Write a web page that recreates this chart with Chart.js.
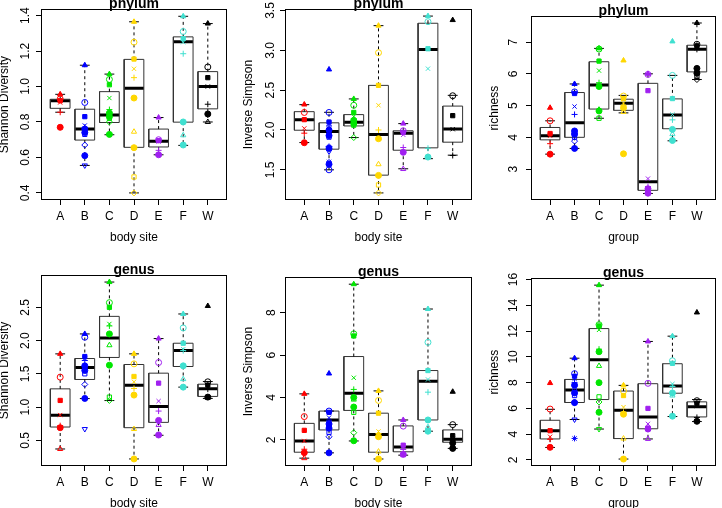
<!DOCTYPE html>
<html>
<head>
<meta charset="utf-8">
<script src="https://cdn.jsdelivr.net/npm/chart.js@4.4.0/dist/chart.umd.min.js"></script>
<style>
  html, body { margin: 0; padding: 0; background: #fff; overflow: hidden; }
  body { width: 722px; height: 508px; position: relative; }
  canvas { position: absolute; }
</style>
</head>
<body>
<script>
// Groups (body sites) and their colours
const groups = ['A', 'B', 'C', 'D', 'E', 'F', 'W'];
const groupColors = ['#FF0000', '#0000FF', '#00E600', '#FFD700', '#A020F0', '#40E0D0', '#000000'];

// Box stats are [lower whisker, Q1, median, Q3, upper whisker]

// phylum - Shannon Diversity
const phylumShannonTicks = [0.4, 0.6, 0.8, 1.0, 1.2, 1.4];
const phylumShannonPoints = [
    [0.956, 0.93, 0.92, 0.91, 0.855, 0.77],
    [1.12, 0.91, 0.83, 0.78, 0.77, 0.76, 0.75, 0.74, 0.73, 0.67, 0.61, 0.555],
    [1.07, 1.04, 1.01, 0.935, 0.87, 0.85, 0.84, 0.83, 0.82, 0.80, 0.73],
    [1.365, 1.25, 1.155, 1.10, 1.05, 0.935, 0.745, 0.655, 0.49, 0.40],
    [0.825, 0.70, 0.695, 0.69, 0.64, 0.615],
    [1.396, 1.31, 1.27, 1.25, 1.185, 0.80, 0.725, 0.67],
    [1.355, 1.11, 1.05, 1.0, 0.90, 0.845, 0.80]
];
const phylumShannonBoxes = [
    [0.855, 0.877, 0.92, 0.928, 0.956],
    [0.555, 0.698, 0.76, 0.872, 1.12],
    [0.728, 0.797, 0.84, 0.971, 1.07],
    [0.40, 0.657, 0.99, 1.153, 1.365],
    [0.615, 0.659, 0.692, 0.76, 0.825],
    [0.668, 0.799, 1.252, 1.28, 1.396],
    [0.80, 0.874, 1.0, 1.084, 1.355]
];

// phylum - Inverse Simpson
const phylumSimpsonTicks = [1.5, 2.0, 2.5, 3.0, 3.5];
const phylumSimpsonPoints = [
    [2.32, 2.22, 2.13, 2.02, 1.96, 1.84],
    [2.76, 2.22, 2.10, 2.08, 2.05, 2.0, 1.97, 1.93, 1.91, 1.79, 1.77, 1.73, 1.60, 1.57, 1.50],
    [2.39, 2.31, 2.22, 2.17, 2.14, 2.12, 2.10, 2.08, 2.06, 1.905],
    [3.31, 2.97, 2.56, 2.31, 2.0, 1.89, 1.57, 1.43, 1.31, 1.21],
    [2.08, 1.99, 1.97, 1.94, 1.78, 1.72, 1.51],
    [3.43, 3.36, 3.02, 2.77, 1.77, 1.66],
    [3.38, 2.43, 2.18, 2.01, 1.68]
];
const phylumSimpsonBoxes = [
    [1.842, 1.997, 2.13, 2.23, 2.318],
    [1.50, 1.759, 1.98, 2.09, 2.222],
    [1.905, 2.051, 2.097, 2.193, 2.39],
    [1.21, 1.433, 1.944, 2.56, 3.31],
    [1.513, 1.746, 1.96, 1.99, 2.08],
    [1.64, 1.776, 3.01, 3.34, 3.43],
    [1.684, 1.847, 2.013, 2.30, 2.435]
];

// phylum - richness
const phylumRichnessTicks = [3, 4, 5, 6, 7];
const phylumRichnessPoints = [
    [4.93, 4.52, 4.12, 4.05, 3.80, 3.47],
    [5.68, 5.43, 5.38, 4.97, 4.72, 4.20, 4.15, 4.10, 4.0, 3.88, 3.65],
    [6.80, 6.78, 6.40, 6.10, 5.72, 5.60, 4.87, 4.83, 4.60],
    [6.42, 5.30, 5.22, 5.08, 5.0, 4.93, 4.80, 3.48],
    [6.0, 5.98, 5.47, 2.70, 2.45, 2.38, 2.28, 2.24],
    [7.02, 5.95, 5.22, 4.72, 4.55, 4.25, 4.10, 3.90],
    [7.60, 6.93, 6.88, 6.80, 6.77, 6.17, 6.10, 6.02, 5.92, 5.82]
];
const phylumRichnessBoxes = [
    [3.47, 3.92, 4.05, 4.31, 4.52],
    [3.65, 4.0, 4.46, 5.41, 5.68],
    [4.60, 4.89, 5.65, 6.38, 6.80],
    [4.77, 4.85, 5.07, 5.20, 5.32],
    [2.23, 2.33, 2.60, 5.70, 6.0],
    [3.89, 4.27, 4.70, 5.21, 5.95],
    [5.82, 6.06, 6.77, 6.90, 7.60]
];

// genus - Shannon Diversity
const genusShannonTicks = [0.5, 1.0, 1.5, 2.0, 2.5];
const genusShannonPoints = [
    [1.80, 1.45, 1.10, 0.88, 0.72, 0.69, 0.37],
    [2.10, 2.05, 1.76, 1.73, 1.70, 1.62, 1.59, 1.55, 1.50, 1.34, 1.13, 0.67],
    [2.88, 2.57, 2.50, 2.25, 2.22, 2.10, 1.93, 1.63, 1.15, 1.10],
    [1.80, 1.65, 1.46, 1.38, 1.28, 1.18, 0.67, 0.22],
    [2.03, 1.67, 1.36, 1.09, 0.94, 0.80, 0.73, 0.58],
    [2.40, 2.19, 1.96, 1.87, 1.85, 1.62, 1.42, 1.30],
    [2.52, 1.38, 1.33, 1.30, 1.27, 1.15, 1.14]
];
const genusShannonBoxes = [
    [0.37, 0.70, 0.877, 1.274, 1.80],
    [1.128, 1.415, 1.595, 1.73, 2.10],
    [1.098, 1.746, 2.038, 2.364, 2.88],
    [0.22, 0.69, 1.33, 1.64, 1.80],
    [0.576, 0.77, 1.01, 1.51, 2.03],
    [1.30, 1.61, 1.85, 1.96, 2.40],
    [1.13, 1.16, 1.274, 1.344, 1.384]
];

// genus - Inverse Simpson
const genusSimpsonTicks = [2, 4, 6, 8];
const genusSimpsonPoints = [
    [4.17, 3.10, 2.45, 1.95, 1.56, 1.40, 1.14],
    [5.13, 3.36, 3.30, 3.05, 2.90, 2.75, 2.65, 2.55, 2.35, 2.15, 1.39],
    [9.34, 7.0, 6.9, 4.93, 4.38, 4.0, 3.9, 3.55, 3.30, 2.34, 1.96],
    [4.31, 3.86, 3.26, 2.40, 2.30, 2.15, 1.45, 1.10],
    [2.94, 2.65, 1.75, 1.65, 1.55, 1.32, 1.28],
    [8.17, 6.60, 5.27, 4.85, 4.25, 2.94, 2.60, 2.41],
    [4.27, 2.72, 2.20, 2.05, 1.97, 1.85, 1.72, 1.60]
];
const genusSimpsonBoxes = [
    [1.14, 1.42, 1.95, 2.78, 4.17],
    [1.39, 2.47, 2.94, 3.36, 3.36],
    [1.95, 3.39, 4.20, 5.93, 9.34],
    [1.10, 1.42, 2.25, 3.26, 4.31],
    [1.28, 1.44, 1.67, 2.66, 2.94],
    [2.41, 2.94, 4.76, 5.27, 8.17],
    [1.60, 1.89, 2.03, 2.47, 2.72]
];

// genus - richness
const genusRichnessTicks = [2, 4, 6, 8, 10, 12, 14, 16];
const genusRichnessPoints = [
    [7.97, 5.95, 4.27, 3.80, 3.60, 2.98],
    [9.90, 8.70, 8.50, 8.30, 8.00, 7.80, 7.50, 7.20, 7.0, 6.5, 6.45, 5.14, 3.67],
    [15.57, 12.5, 12.4, 12.1, 10.6, 10.4, 9.3, 8.0, 6.9, 6.5, 5.7, 4.4],
    [7.79, 7.35, 7.0, 6.1, 5.7, 5.55, 3.66, 2.07],
    [11.2, 7.95, 6.0, 4.8, 4.6, 4.4, 3.63],
    [11.61, 9.7, 9.5, 7.9, 7.7, 7.2, 7.0, 5.4],
    [13.45, 6.6, 6.4, 6.2, 5.3, 5.0]
];
const genusRichnessBoxes = [
    [2.97, 3.63, 4.27, 5.08, 5.93],
    [5.14, 6.46, 7.43, 8.25, 9.90],
    [4.40, 6.69, 9.78, 12.2, 15.57],
    [2.07, 3.66, 5.85, 7.35, 7.79],
    [3.63, 4.42, 5.34, 7.92, 11.2],
    [5.37, 7.18, 7.74, 9.47, 11.61],
    [4.98, 5.34, 6.13, 6.51, 6.69]
];

// Layout of the six panels
const Y_AXIS_WIDTH = 44;
const PANEL_HEIGHT = 266;

const panels = [
    { title: 'phylum', yTitle: 'Shannon Diversity', xTitle: 'body site', left: -3, top: 0, padTop: 9, plotWidth: 191, labelPad: 2,
      yMin: 0.36, yMax: 1.436, ticks: phylumShannonTicks, digits: 1, points: phylumShannonPoints, boxes: phylumShannonBoxes },
    { title: 'phylum', yTitle: 'Inverse Simpson', xTitle: 'body site', left: 241, top: 0, padTop: 9, plotWidth: 192, labelPad: 1,
      yMin: 1.121, yMax: 3.519, ticks: phylumSimpsonTicks, digits: 1, points: phylumSimpsonPoints, boxes: phylumSimpsonBoxes },
    { title: 'phylum', yTitle: 'richness', xTitle: 'group', left: 487, top: 0, padTop: 9, plotWidth: 190, labelPad: 9,
      yMin: 2.026, yMax: 7.814, ticks: phylumRichnessTicks, digits: 0, points: phylumRichnessPoints, boxes: phylumRichnessBoxes },
    { title: 'genus', yTitle: 'Shannon Diversity', xTitle: 'body site', left: -3, top: 265, padTop: 10, plotWidth: 191, labelPad: 2,
      yMin: 0.114, yMax: 2.986, ticks: genusShannonTicks, digits: 1, points: genusShannonPoints, boxes: genusShannonBoxes },
    { title: 'genus', yTitle: 'Inverse Simpson', xTitle: 'body site', left: 241, top: 265, padTop: 10, plotWidth: 192, labelPad: 5,
      yMin: 0.77, yMax: 9.67, ticks: genusSimpsonTicks, digits: 0, points: genusSimpsonPoints, boxes: genusSimpsonBoxes },
    { title: 'genus', yTitle: 'richness', xTitle: 'group', left: 487, top: 265, padTop: 10, plotWidth: 190, labelPad: 6,
      yMin: 1.53, yMax: 16.11, ticks: genusRichnessTicks, digits: 0, points: genusRichnessPoints, boxes: genusRichnessBoxes }
];

// Point shapes cycle (roughly like the R pch values used)
const shapeCycle = [
    { style: 'triangle', fill: true },
    { style: 'circle', fill: false },
    { style: 'rect', fill: true },
    { style: 'crossRot', fill: false },
    { style: 'cross', fill: false },
    { style: 'circle', fill: true },
    { style: 'triangle', fill: false },
    { style: 'circle', fill: true },
    { style: 'rect', fill: false },
    { style: 'rectRot', fill: false },
    { style: 'circle', fill: true },
    { style: 'triangle', fill: false, rotation: 180 },
    { style: 'star', fill: false },
    { style: 'circle', fill: true },
    { style: 'circle', fill: false }
];

Chart.defaults.font.family = '"Liberation Sans", Arial, Helvetica, sans-serif';
Chart.defaults.color = '#000';

// Frame around the plot and the panel title
const framePlugin = {
    id: 'frame',
    beforeDatasetsDraw(chart) {
        const { ctx, chartArea: a } = chart;
        ctx.save();
        ctx.strokeStyle = '#000';
        ctx.lineWidth = 1;
        ctx.strokeRect(Math.round(a.left) + 0.5, Math.round(a.top) + 0.5,
            Math.round(a.right - a.left) - 1, Math.round(a.bottom - a.top) - 1);
        ctx.restore();
    },
    afterDraw(chart) {
        const { ctx, chartArea: a } = chart;
        ctx.save();
        ctx.fillStyle = '#000';
        ctx.font = 'bold 14px "Liberation Sans", Arial, sans-serif';
        ctx.textAlign = 'center';
        ctx.textBaseline = 'middle';
        ctx.fillText(chart.options.panelTitle, (a.left + a.right) / 2, a.top - 5);
        ctx.restore();
    }
};

// Line segments of the boxplots (null points break the line)
function buildBoxDatasets(boxes) {
    const frames = [], medians = [], whiskers = [], staples = [];
    boxes.forEach((b, i) => {
        const x = i + 1;
        const [lo, q1, med, q3, hi] = b;
        frames.push({ x: x - 0.4, y: q1 }, { x: x + 0.4, y: q1 }, { x: x + 0.4, y: q3 },
            { x: x - 0.4, y: q3 }, { x: x - 0.4, y: q1 }, { x: x, y: null });
        medians.push({ x: x - 0.4, y: med }, { x: x + 0.4, y: med }, { x: x, y: null });
        whiskers.push({ x: x, y: q3 }, { x: x, y: hi }, { x: x, y: null },
            { x: x, y: q1 }, { x: x, y: lo }, { x: x, y: null });
        staples.push({ x: x - 0.2, y: hi }, { x: x + 0.2, y: hi }, { x: x, y: null },
            { x: x - 0.2, y: lo }, { x: x + 0.2, y: lo }, { x: x, y: null });
    });
    const line = (data, width, dash, color) => ({
        data: data, showLine: true, borderColor: color, borderWidth: width, borderDash: dash,
        pointRadius: 0, spanGaps: false, order: 2
    });
    return [
        line(whiskers, 1, [3, 3], '#000'),
        line(staples, 1, [], '#000'),
        line(frames, 1, [], '#333'),
        line(medians, 3, [], '#000')
    ];
}

// One scatter dataset per group
function buildPointDatasets(points) {
    return points.map((vals, i) => {
        const color = groupColors[i];
        const shapes = vals.map((v, k) => shapeCycle[k % shapeCycle.length]);
        return {
            data: vals.map(v => ({ x: i + 1, y: v })),
            pointStyle: shapes.map(s => s.style),
            pointRotation: shapes.map(s => s.rotation || 0),
            pointBackgroundColor: shapes.map(s => s.fill ? color : 'rgba(0,0,0,0)'),
            pointBorderColor: color,
            pointBorderWidth: 1,
            pointRadius: 3,
            showLine: false,
            order: 1
        };
    });
}

function createPanel(p) {
    const canvas = document.createElement('canvas');
    const w = Y_AXIS_WIDTH + p.plotWidth;
    canvas.width = w;
    canvas.height = PANEL_HEIGHT;
    canvas.style.left = p.left + 'px';
    canvas.style.top = p.top + 'px';
    canvas.style.width = w + 'px';
    canvas.style.height = PANEL_HEIGHT + 'px';
    document.body.appendChild(canvas);

    new Chart(canvas, {
        type: 'scatter',
        data: { datasets: buildPointDatasets(p.points).concat(buildBoxDatasets(p.boxes)) },
        options: {
            responsive: false,
            animation: false,
            devicePixelRatio: 1,
            panelTitle: p.title,
            layout: { padding: { top: p.padTop, right: 0, bottom: 30 - p.padTop, left: 0 } },
            plugins: { legend: { display: false }, tooltip: { enabled: false } },
            scales: {
                x: {
                    type: 'linear',
                    min: 0.22,
                    max: 7.78,
                    afterBuildTicks: s => { s.ticks = groups.map((g, i) => ({ value: i + 1 })); },
                    afterFit: s => { s.height = 45; },
                    ticks: { callback: v => groups[v - 1], font: { size: 12 }, padding: 4, maxRotation: 0, autoSkip: false },
                    grid: { display: true, drawOnChartArea: false, tickLength: 5, color: '#000' },
                    border: { display: false },
                    title: { display: true, text: p.xTitle, font: { size: 12 }, padding: 0 }
                },
                y: {
                    type: 'linear',
                    min: p.yMin,
                    max: p.yMax,
                    afterBuildTicks: s => { s.ticks = p.ticks.map(v => ({ value: v })); },
                    afterFit: s => { s.width = Y_AXIS_WIDTH; },
                    ticks: {
                        callback: v => v.toFixed(p.digits), font: { size: 12 }, padding: p.labelPad,
                        minRotation: 90, maxRotation: 90, crossAlign: 'center'
                    },
                    grid: { display: true, drawOnChartArea: false, tickLength: 5, color: '#000' },
                    border: { display: false },
                    title: { display: true, text: p.yTitle, font: { size: 12 }, padding: 0 }
                }
            }
        },
        plugins: [framePlugin]
    });
}

panels.forEach(createPanel);
</script>
</body>
</html>
